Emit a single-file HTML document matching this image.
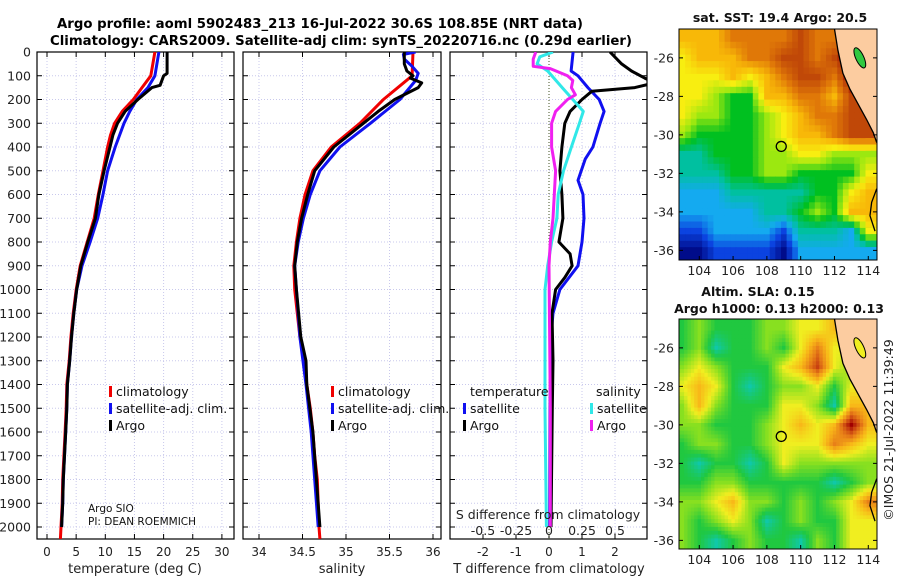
<!DOCTYPE html>
<html><head><meta charset="utf-8"><style>
body{margin:0;background:#fff}
svg{display:block;font-family:"DejaVu Sans","Liberation Sans",sans-serif}
</style></head><body>
<svg id="fig" width="900" height="580" viewBox="0 0 900 580" xmlns="http://www.w3.org/2000/svg">
<defs>
<clipPath id="c1"><rect x="37" y="52" width="197" height="487"/></clipPath>
<clipPath id="c2"><rect x="243" y="52" width="198" height="487"/></clipPath>
<clipPath id="c3"><rect x="450" y="52" width="197" height="487"/></clipPath>
<clipPath id="m1"><rect x="679" y="29" width="198" height="231"/></clipPath>
<clipPath id="m2"><rect x="679" y="319" width="198" height="230"/></clipPath>
</defs>
<text x="57" y="28" textLength="526" lengthAdjust="spacingAndGlyphs" font-size="13.3" font-weight="bold">Argo profile: aoml 5902483_213 16-Jul-2022 30.6S 108.85E (NRT data)</text>
<text x="50" y="45" textLength="582" lengthAdjust="spacingAndGlyphs" font-size="13.3" font-weight="bold">Climatology: CARS2009. Satellite-adj clim: synTS_20220716.nc (0.29d earlier)</text>
<g id="g"></g>
</svg>
<script>
// ---------- data ----------
const depthTicks=[0,100,200,300,400,500,600,700,800,900,1000,1100,1200,1300,1400,1500,1600,1700,1800,1900,2000];
const tempTicks=[0,5,10,15,20,25,30];
const salTicks=[34,34.5,35,35.5,36];
const tdiffTicks=[-2,-1,0,1,2];
const sdiffTicks=[-0.5,-0.25,0,0.25,0.5];
const sdiffLabels=["-0.5","-0.25","0","0.25","0.5"];

const tClimDepth=[0,100,150,200,250,300,350,400,500,600,700,800,900,1000,1100,1200,1300,1400,1500,1600,1700,1800,1900,2000,2050];
const tClimVal=[18.5,17.8,16.3,14.8,12.9,11.6,10.9,10.4,9.6,8.8,8.1,6.9,5.7,5.0,4.5,4.1,3.8,3.4,3.3,3.1,2.9,2.7,2.6,2.4,2.3];
const tSatDepth=[0,100,150,200,250,300,400,500,600,700,800,900,1000,1100,1200,1300,1400,1500,1600,1700,1800,1900,2000];
const tSatVal=[19.2,18.5,17.3,15.4,14.2,13.2,11.7,10.4,9.6,8.7,7.4,6.0,5.1,4.6,4.2,3.9,3.5,3.4,3.2,3.0,2.8,2.7,2.5];
const tArgoDepth=[0,90,100,140,150,200,250,300,350,400,500,600,700,800,900,1000,1100,1200,1300,1400,1500,1600,1700,1800,1900,2000];
const tArgoVal=[20.6,20.6,20.0,19.4,18.0,15.6,13.4,12.1,11.3,10.8,9.8,8.9,8.3,7.0,5.8,5.1,4.6,4.2,3.9,3.5,3.4,3.2,3.0,2.8,2.7,2.5];

const sClimDepth=[0,100,200,300,400,500,600,700,800,900,1000,1100,1200,1300,1400,1500,1600,1700,1800,1900,2000,2050];
const sClimVal=[35.77,35.76,35.43,35.16,34.83,34.62,34.53,34.47,34.43,34.40,34.41,34.44,34.47,34.52,34.55,34.59,34.62,34.64,34.67,34.68,34.69,34.70];
const sSatDepth=[0,10,30,60,90,120,200,300,400,500,600,700,800,900,1000,1200,1400,1600,1800,2000];
const sSatVal=[35.80,35.66,35.67,35.76,35.83,35.80,35.62,35.28,34.93,34.70,34.59,34.51,34.45,34.41,34.43,34.47,34.54,34.60,34.64,34.68];
const sArgoDepth=[0,50,80,100,110,130,150,200,250,300,400,500,600,700,800,900,1000,1200,1300,1400,1600,1800,2000];
const sArgoVal=[35.67,35.67,35.70,35.77,35.74,35.87,35.83,35.56,35.37,35.20,34.86,34.64,34.56,34.49,34.44,34.41,34.43,34.48,34.54,34.55,34.62,34.66,34.70];

const dTSatDepth=[0,80,100,150,200,250,300,400,450,540,600,700,800,900,1000,1100,1200,1500,2000];
const dTSatVal=[0.73,0.67,0.88,1.18,1.52,1.67,1.55,1.33,1.1,0.88,1.03,1.06,1.0,0.88,0.33,0.12,0.06,0.03,0.02];
const dTArgoDepth=[0,50,80,110,130,150,165,200,250,300,400,500,600,700,800,850,900,950,1000,1100,1300,1500,2000];
const dTArgoVal=[1.85,2.2,2.5,2.9,3.2,2.6,1.3,1.0,0.64,0.48,0.39,0.33,0.39,0.42,0.3,0.64,0.7,0.48,0.2,0.09,0.12,0.1,0.06];
const dSSatDepth=[0,20,50,80,150,200,250,300,400,500,600,700,800,900,1000,1500,2000];
const dSSatVal=[0.03,-0.07,-0.09,-0.01,0.1,0.18,0.26,0.23,0.17,0.11,0.07,0.06,0.02,-0.01,-0.03,-0.03,-0.02];
const dSArgoDepth=[0,30,60,70,100,120,150,180,200,250,300,400,500,600,700,800,900,1500,2000];
const dSArgoVal=[-0.1,-0.12,-0.12,0.01,0.14,0.18,0.17,0.2,0.14,0.05,0.02,0.02,0.05,0.04,0.03,0.01,0.0,0.01,0.01];

const mapLons=[103,104,105,106,107,108,109,110,111,112,113,114];
const mapLats=[-25,-26,-27,-28,-29,-30,-31,-32,-33,-34,-35,-36];
const sstGrid=[
[7,7,7,8,8,8,8,9,8,8,10,10],
[6,7,7,7,8,8,9,9,8,9,10,4],
[6,6,6,7,6,7,8,9,9,8,10,10],
[6,6,5,4,4,7,7,8,8,7,9,9],
[6,5,5,4,4,5,6,7,8,8,9,9],
[5,4,4,4,4,5,6,7,7,8,9,9],
[3,3,4,4,4,5,5,6,6,5,5,5],
[3,3,3,4,4,5,5,4,4,4,4,6],
[2,2,2,3,3,3,3,3,4,4,6,7],
[2,2,2,2,2,3,3,4,5,4,7,7],
[1,1,2,2,2,2,1,3,3,3,2,6],
[0,0,1,1,1,1,0,2,2,2,2,2]];
const slaGrid=[
[1,2,1,1,1,2,2,3,3,4,3,3],
[1,2,0,1,1,2,1,3,5,3,3,3],
[2,3,2,1,1,1,3,4,6,3,2,3],
[3,4,3,1,0,1,2,2,3,1,3,3],
[2,4,2,1,1,1,3,3,2,0,4,4],
[2,2,1,1,1,2,3,4,3,4,7,4],
[1,2,2,1,1,2,3,3,3,5,4,3],
[1,0,1,1,0,1,3,2,2,2,2,2],
[1,1,2,2,1,1,1,1,1,0,1,2],
[2,2,3,4,2,2,1,2,1,2,3,5],
[2,1,2,3,2,0,1,2,1,1,3,3],
[2,1,0,1,2,1,1,0,2,1,3,3]];
const sstColors=["#000c8a","#0b43e0","#14aaf0","#00c0a0","#00c020","#9ce810","#f8ee10","#f8b808","#e07808","#c04808","#a00000"];
const slaColors=["#10c8a8","#20c840","#88e020","#f0ee20","#f8b818","#e88018","#c84010","#a00000"];
const argoLon=108.85, argoLat=-30.6;
const coastLon=[112.0,112.2,112.5,112.9,113.4,113.9,114.3,114.5];
const coastLat=[-24.5,-25.6,-26.8,-27.6,-28.4,-29.2,-29.9,-30.4];

// ---------- helpers ----------
const NS="http://www.w3.org/2000/svg";
const G=document.getElementById('g');
function mk(tag,attrs,parent){const e=document.createElementNS(NS,tag);for(const k in attrs)e.setAttribute(k,attrs[k]);(parent||G).appendChild(e);return e;}
const yD=d=>52+d*0.2375;

function panel(x0,x1,name,xs,ticks,labels){
  const g=mk('g',{});
  
  
  ticks.forEach(t=>{const l=mk('line',{x1:xs(t),x2:xs(t),y1:52,y2:539,stroke:'#c8c8ec','stroke-dasharray':'1,2','stroke-width':1},g);
    
    });
  depthTicks.forEach(d=>{const l=mk('line',{x1:x0,x2:x1,y1:yD(d),y2:yD(d),stroke:'#c8c8ec','stroke-dasharray':'1,2','stroke-width':1},g);
    
    
    mk('line',{x1:x0,x2:x0+5,y1:yD(d),y2:yD(d),stroke:'#000'},g);
    mk('line',{x1:x1-5,x2:x1,y1:yD(d),y2:yD(d),stroke:'#000'},g);});
  ticks.forEach((t,i)=>{mk('line',{x1:xs(t),x2:xs(t),y1:539,y2:534,stroke:'#000'},g);
    mk('line',{x1:xs(t),x2:xs(t),y1:52,y2:57,stroke:'#000'},g);
    const tx=mk('text',{x:xs(t),y:556,'text-anchor':'middle','font-size':12,fill:'#222'},g);tx.textContent=labels[i];
    
    });
  const r=mk('rect',{x:x0,y:52,width:x1-x0,height:487,fill:'none',stroke:'#000','stroke-width':1.2},g);
  
  
  return g;
}
function series(depths,vals,xs,color,w,clip,name){
  const pts=depths.map((d,i)=>xs(vals[i]).toFixed(1)+','+yD(d).toFixed(1)).join(' ');
  const p=mk('polyline',{points:pts,fill:'none',stroke:color,'stroke-width':w,'stroke-linejoin':'round','clip-path':'url(#'+clip+')'});
  
  
}
function txt(x,y,s,size,name,anchor,extra){const t=mk('text',Object.assign({x:x,y:y,'font-size':size,'text-anchor':anchor||'start',fill:'#111'},extra||{}));t.textContent=s;
  
  return t;}
function legendItem(x,y,color,label){const b=mk('rect',{x:x,y:y-10,width:3,height:11,fill:color});
  
  
  txt(x+7,y,label,12.5,'legend-entry');}

depthTicks.forEach(d=>txt(31,yD(d)+4.5,String(d),12.5,'y-tick-label','end',{fill:'#222'}));

const xT=v=>47+v*5.83;
panel(37,234,'temperature-panel',xT,tempTicks,tempTicks.map(String));
series(tClimDepth,tClimVal,xT,'#f00000',3,'c1','temp-climatology-line');
series(tSatDepth,tSatVal,xT,'#1010f0',3,'c1','temp-satellite-line');
series(tArgoDepth,tArgoVal,xT,'#000',3,'c1','temp-argo-line');
txt(135,573,'temperature (deg C)',13,'x-axis-title','middle',{fill:'#222'});
legendItem(109,396,'#f00000','climatology');
legendItem(109,413,'#1010f0','satellite-adj. clim.');
legendItem(109,430,'#000','Argo');
txt(88,512,'Argo SIO',10.5,'float-owner');
txt(88,525,'PI: DEAN ROEMMICH',10.5,'principal-investigator');

const xS=v=>259+(v-34)*87;
panel(243,441,'salinity-panel',xS,salTicks,salTicks.map(String));
series(sClimDepth,sClimVal,xS,'#f00000',3,'c2','sal-climatology-line');
series(sSatDepth,sSatVal,xS,'#1010f0',3,'c2','sal-satellite-line');
series(sArgoDepth,sArgoVal,xS,'#000',3,'c2','sal-argo-line');
txt(342,573,'salinity',13,'x-axis-title','middle',{fill:'#222'});
legendItem(331,396,'#f00000','climatology');
legendItem(331,413,'#1010f0','satellite-adj. clim.');
legendItem(331,430,'#000','Argo');

const xDT=v=>549+v*33;
const xDS=v=>549+v*132;
panel(450,647,'difference-panel',xDT,tdiffTicks,tdiffTicks.map(String));
const zl=mk('line',{x1:549,x2:549,y1:52,y2:539,stroke:'#405020','stroke-dasharray':'1,2'});


series(dTSatDepth,dTSatVal,xDT,'#1010f0',3,'c3','tdiff-satellite-line');
series(dTArgoDepth,dTArgoVal,xDT,'#000',3,'c3','tdiff-argo-line');
series(dSSatDepth,dSSatVal,xDS,'#30e8e8',3,'c3','sdiff-satellite-line');
series(dSArgoDepth,dSArgoVal,xDS,'#f020f0',3,'c3','sdiff-argo-line');
txt(549,573,'T difference from climatology',13,'x-axis-title','middle',{fill:'#222'});
txt(548,519,'S difference from climatology',12.5,'s-axis-title','middle',{fill:'#222'});
sdiffTicks.forEach((t,i)=>txt(xDS(t),535,sdiffLabels[i],12.5,'s-tick-label','middle',{fill:'#222'}));
txt(470,396,'temperature',12.5,'legend-title');
legendItem(463,413,'#1010f0','satellite');
legendItem(463,430,'#000','Argo');
txt(596,396,'salinity',12.5,'legend-title');
legendItem(590,413,'#30e8e8','satellite');
legendItem(590,430,'#f020f0','Argo');

// colour helpers for smooth rendering of the gridded fields
function hex2rgb(h){return [parseInt(h.slice(1,3),16),parseInt(h.slice(3,5),16),parseInt(h.slice(5,7),16)];}
function cmap(colors,v){v=Math.max(0,Math.min(colors.length-1,v));const i=Math.min(colors.length-2,Math.floor(v)),f=v-i;
  const a=hex2rgb(colors[i]),b=hex2rgb(colors[i+1]);
  return 'rgb('+a.map((c,k)=>Math.round(c+(b[k]-c)*f)).join(',')+')';}
function sample(grid,r,c){const R=grid.length,C=grid[0].length;
  r=Math.max(0,Math.min(R-1,r));c=Math.max(0,Math.min(C-1,c));
  const r0=Math.min(R-2,Math.floor(r)),c0=Math.min(C-2,Math.floor(c)),fr=r-r0,fc=c-c0;
  return grid[r0][c0]*(1-fr)*(1-fc)+grid[r0][c0+1]*(1-fr)*fc+grid[r0+1][c0]*fr*(1-fc)+grid[r0+1][c0+1]*fr*fc;}

function map(y0,y1,grid,colors,sub,name,clip,islandColor){
  const lonX=l=>679+(l-102.8)*16.9;
  const latY=la=>y0+(-24.5-la)*19.25;
  const g=mk('g',{'clip-path':'url(#'+clip+')'});
  
  
  const h=mk('g',{},g);
  // cells: each grid cell subdivided and coloured by bilinear interpolation of grid values
  const step=1/sub;
  for(let r=-0.5;r<grid.length-0.5+1e-9;r+=step){
    for(let c=-0.5;c<grid[0].length-0.5+1e-9;c+=step){
      const v=sample(grid,r+step/2,c+step/2);
      const lon=mapLons[0]+c, lat=mapLats[0]-r;
      const x=lonX(lon), y=latY(lat);
      const w=16.9*step+0.6, hh=19.25*step+0.6;
      const cell=mk('rect',{x:(c<-0.49?x-12:x).toFixed(1),y:(r<-0.49?y-12:y).toFixed(1),width:(w+(c<-0.49?12:0)+(c>grid[0].length-1.5?12:0)).toFixed(1),height:(hh+(r<-0.49?12:0)+(r>grid.length-1.5?12:0)).toFixed(1),fill:cmap(colors,v)},h);
      
      
    }
  }
  const pts=coastLon.map((l,i)=>lonX(l).toFixed(1)+','+latY(coastLat[i]).toFixed(1));
  const land=mk('polygon',{points:pts.join(' ')+' 880,'+latY(-30.4)+' 880,'+(y0-2),fill:'#fccca0'},g);
  
  
  const coast=mk('polyline',{points:pts.join(' '),fill:'none',stroke:'#000','stroke-width':1.3},g);
  
  
  const c2=mk('polyline',{points:[[114.5,-32.8],[114.2,-33.5],[114.1,-34.2],[114.4,-35]].map(p=>lonX(p[0])+','+latY(p[1])).join(' '),fill:'none',stroke:'#000','stroke-width':1.3},g);
  
  
  const isl=mk('ellipse',{cx:lonX(113.5),cy:latY(-26.0),rx:4,ry:11,fill:islandColor,stroke:'#000','stroke-width':1,transform:'rotate(-25 '+lonX(113.5)+' '+latY(-26.0)+')'},g);
  
  
  const m=mk('circle',{cx:lonX(argoLon),cy:latY(argoLat),r:5,fill:'none',stroke:'#000','stroke-width':1.3});
  
  
  const f=mk('rect',{x:679,y:y0,width:198,height:y1-y0,fill:'none',stroke:'#000','stroke-width':1});
  
  
  [-26,-28,-30,-32,-34,-36].forEach(la=>{mk('line',{x1:679,x2:683,y1:latY(la),y2:latY(la),stroke:'#000'});
    mk('line',{x1:873,x2:877,y1:latY(la),y2:latY(la),stroke:'#000'});
    txt(674,latY(la)+4.5,String(la),12.5,'lat-tick-label','end',{fill:'#222'});});
  [104,106,108,110,112,114].forEach(l=>{mk('line',{x1:lonX(l),x2:lonX(l),y1:y1,y2:y1-4,stroke:'#000'});
    txt(lonX(l),y1+15,String(l),12.5,'lon-tick-label','middle',{fill:'#222'});});
}
map(29,260,sstGrid,sstColors,3,'sst-map','m1','#30c840');
map(319,549,slaGrid,slaColors,5,'sla-map','m2','#f0ee20');
txt(780,22,'sat. SST: 19.4 Argo: 20.5',12.5,'sst-map-title','middle',{'font-weight':'bold'});
txt(758,296,'Altim. SLA: 0.15',12.5,'sla-map-title','middle',{'font-weight':'bold'});
txt(779,313,'Argo h1000: 0.13 h2000: 0.13',12.5,'sla-map-subtitle','middle',{'font-weight':'bold'});
txt(893,430,'©IMOS 21-Jul-2022 11:39:49',12.5,'timestamp','middle',{transform:'rotate(-90 893 430)',fill:'#222'});
</script>
</body></html>
